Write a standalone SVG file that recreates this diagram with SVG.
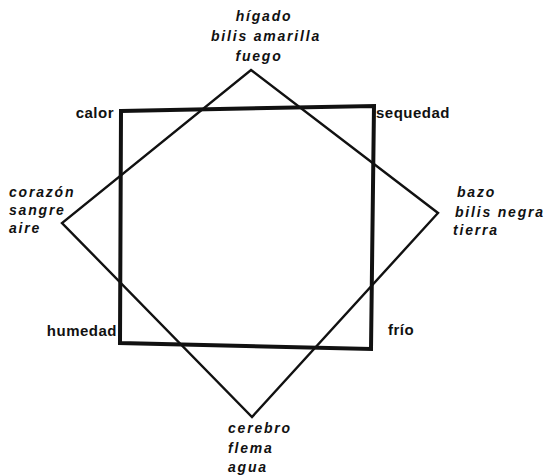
<svg xmlns="http://www.w3.org/2000/svg" width="550" height="476" viewBox="0 0 550 476">
<style>
.it{font-family:"Liberation Sans",Arial,sans-serif;font-style:italic;font-weight:bold;font-size:14px;letter-spacing:1.8px;fill:#111}
.up{font-family:"Liberation Sans",Arial,sans-serif;font-weight:bold;font-size:15px;letter-spacing:0.5px;fill:#111}
.sq{fill:none;stroke:#111;stroke-width:4;stroke-linejoin:miter}
.dm{fill:none;stroke:#111;stroke-width:2.4;stroke-linejoin:miter}
</style>
<rect width="550" height="476" fill="#fff"/>
<g id="connectors">
<polygon class="dm" points="251,70 438,213 252,417 62,223"/>
<polygon class="sq" points="121,111 374,106 371,349 120,343"/>
</g>
<g id="top"><text class="it" x="264" y="21" text-anchor="middle">hígado</text><text class="it" x="266" y="41" text-anchor="middle">bilis amarilla</text><text class="it" x="259" y="61" text-anchor="middle">fuego</text></g>
<g id="left"><text class="it" x="9" y="197">corazón</text><text class="it" x="9" y="215">sangre</text><text class="it" x="9" y="233">aire</text></g>
<g id="right"><text class="it" x="457" y="197">bazo</text><text class="it" x="455" y="217">bilis negra</text><text class="it" x="453" y="235">tierra</text></g>
<g id="bottom"><text class="it" x="228" y="433">cerebro</text><text class="it" x="228" y="453">flema</text><text class="it" x="228" y="472">agua</text></g>
<g id="calor"><text class="up" x="114" y="118" text-anchor="end">calor</text></g>
<g id="sequedad"><text class="up" x="376" y="118">sequedad</text></g>
<g id="humedad"><text class="up" x="117" y="336" text-anchor="end">humedad</text></g>
<g id="frio"><text class="up" x="388" y="335">frío</text></g>
</svg>
